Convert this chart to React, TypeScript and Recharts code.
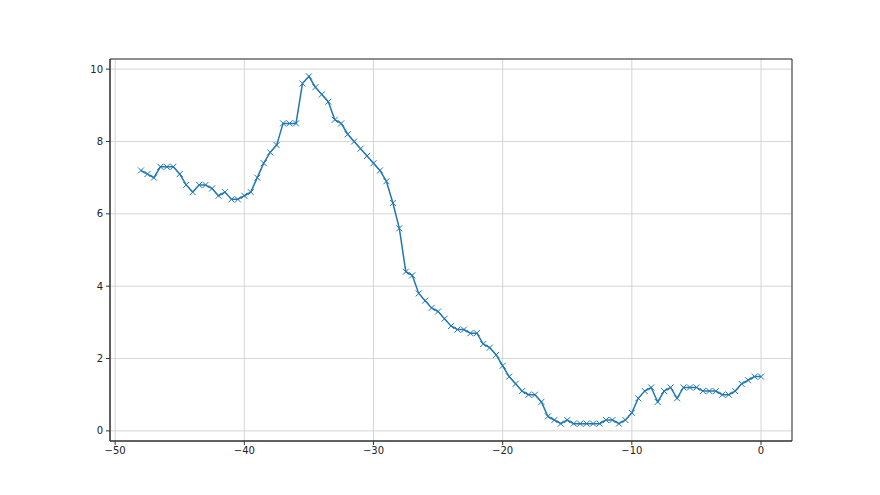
import React from "react";
import {
  LineChart,
  Line,
  XAxis,
  YAxis,
  CartesianGrid,
  ReferenceArea,
} from "recharts";

// x runs from -48 to 0 in steps of 0.5
const xValues: number[] = [
  -48, -47.5, -47, -46.5, -46, -45.5, -45, -44.5, -44, -43.5, -43, -42.5,
  -42, -41.5, -41, -40.5, -40, -39.5, -39, -38.5, -38, -37.5, -37, -36.5,
  -36, -35.5, -35, -34.5, -34, -33.5, -33, -32.5, -32, -31.5, -31, -30.5,
  -30, -29.5, -29, -28.5, -28, -27.5, -27, -26.5, -26, -25.5, -25, -24.5,
  -24, -23.5, -23, -22.5, -22, -21.5, -21, -20.5, -20, -19.5, -19, -18.5,
  -18, -17.5, -17, -16.5, -16, -15.5, -15, -14.5, -14, -13.5, -13, -12.5,
  -12, -11.5, -11, -10.5, -10, -9.5, -9, -8.5, -8, -7.5, -7, -6.5,
  -6, -5.5, -5, -4.5, -4, -3.5, -3, -2.5, -2, -1.5, -1, -0.5, 0,
];

const yValues: number[] = [
  7.2, 7.1, 7.0, 7.3, 7.3, 7.3, 7.1, 6.8, 6.6, 6.8, 6.8, 6.7,
  6.5, 6.6, 6.4, 6.4, 6.5, 6.6, 7.0, 7.4, 7.7, 7.9, 8.5, 8.5,
  8.5, 9.6, 9.8, 9.5, 9.3, 9.1, 8.6, 8.5, 8.2, 8.0, 7.8, 7.6,
  7.4, 7.2, 6.9, 6.3, 5.6, 4.4, 4.3, 3.8, 3.6, 3.4, 3.3, 3.1,
  2.9, 2.8, 2.8, 2.7, 2.7, 2.4, 2.3, 2.1, 1.8, 1.5, 1.3, 1.1,
  1.0, 1.0, 0.8, 0.4, 0.3, 0.2, 0.3, 0.2, 0.2, 0.2, 0.2, 0.2,
  0.3, 0.3, 0.2, 0.3, 0.5, 0.9, 1.1, 1.2, 0.8, 1.1, 1.2, 0.9,
  1.2, 1.2, 1.2, 1.1, 1.1, 1.1, 1.0, 1.0, 1.1, 1.3, 1.4, 1.5, 1.5,
];

const xTicks = [-50, -40, -30, -20, -10, 0];
const yTicks = [0, 2, 4, 6, 8, 10];

const data = xValues.map((x, i) => ({ x, y: yValues[i] }));

const fmt = (v: number) => String(v).replace("-", "\u2212");

const XMarker = (props: any) => {
  const { cx, cy, index } = props;
  if (cx == null || cy == null) return null;
  const s = 3;
  return (
    <path
      key={index}
      d={`M${cx - s},${cy - s}L${cx + s},${cy + s}M${cx - s},${cy + s}L${cx + s},${cy - s}`}
      stroke="#1f77b4"
      strokeWidth={1}
      fill="none"
    />
  );
};

export default function App() {
  const tick = { fill: "#222", fontSize: 10, fontFamily: "DejaVu Sans" };
  return (
    <div style={{ position: "absolute", left: 0, top: 0, background: "#fff" }}>
      <LineChart
        width={880}
        height={495}
        data={data}
        margin={{ top: 59, right: 88, bottom: 24, left: 70 }}
      >
        <CartesianGrid stroke="#cccccc" strokeWidth={0.8} />
        <XAxis
          dataKey="x"
          type="number"
          domain={[-50.4, 2.4]}
          ticks={xTicks}
          allowDataOverflow
          height={30}
          tick={tick}
          tickFormatter={fmt}
          tickSize={4}
          tickMargin={2}
          axisLine={{ stroke: "#333", strokeWidth: 1 }}
          tickLine={{ stroke: "#333", strokeWidth: 1 }}
        />
        <YAxis
          type="number"
          domain={[-0.28, 10.28]}
          ticks={yTicks}
          allowDataOverflow
          width={40}
          tick={tick}
          tickFormatter={fmt}
          tickSize={4}
          tickMargin={3}
          axisLine={{ stroke: "#333", strokeWidth: 1 }}
          tickLine={{ stroke: "#333", strokeWidth: 1 }}
        />
        <ReferenceArea
          x1={-50.4}
          x2={2.4}
          y1={-0.28}
          y2={10.28}
          fill="none"
          stroke="#333"
          strokeWidth={1}
          ifOverflow="visible"
        />
        <Line
          type="linear"
          dataKey="y"
          stroke="#1f77b4"
          strokeWidth={1.5}
          dot={<XMarker />}
          activeDot={false}
          isAnimationActive={false}
        />
      </LineChart>
    </div>
  );
}
